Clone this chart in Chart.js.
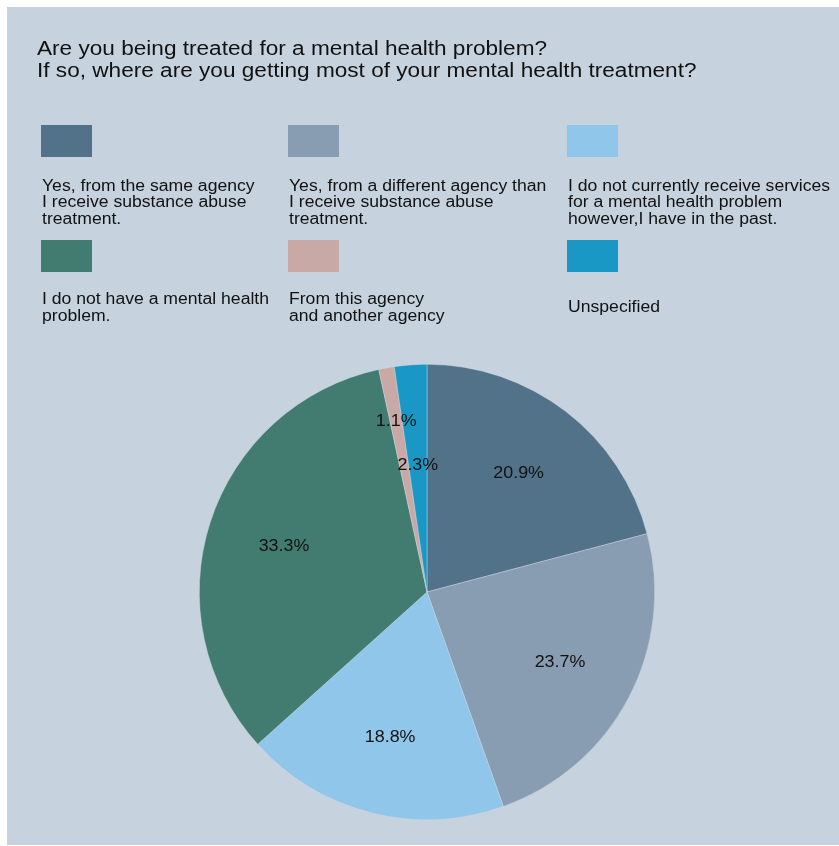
<!DOCTYPE html>
<html>
<head>
<meta charset="utf-8">
<title>Mental health treatment</title>
<script src="https://cdn.jsdelivr.net/npm/chart.js@4.4.1/dist/chart.umd.min.js"></script>
<style>
  html, body { margin: 0; padding: 0; background: #fff; }
  #wrap { width: 839px; height: 846px; }
</style>
</head>
<body>
<div id="wrap"><canvas id="treatmentChart" width="839" height="846"></canvas></div>
<script>
// Survey answers, clockwise from 12 o'clock
const categories = [
  ['Yes, from the same agency', 'I receive substance abuse', 'treatment.'],
  ['Yes, from a different agency than', 'I receive substance abuse', 'treatment.'],
  ['I do not currently receive services', 'for a mental health problem', 'however,I have in the past.'],
  ['I do not have a mental health', 'problem.'],
  ['From this agency', 'and another agency'],
  ['Unspecified']
];
const percentages = [20.9, 23.7, 18.8, 33.3, 1.1, 2.3];
const sliceColors = ['#52728a', '#889cb2', '#8fc6ea', '#427c71', '#c8a9a5', '#1a98c5'];

const titleLines = [
  'Are you being treated for a mental health problem?',
  'If so, where are you getting most of your mental health treatment?'
];

const FONT = '"Liberation Sans", Arial, sans-serif';

// text drawn slightly widened, like the original export's font
function wideText(ctx, text, x, y, sx) {
  ctx.save();
  ctx.translate(x, y);
  ctx.scale(sx, 1);
  ctx.fillText(text, 0, 0);
  ctx.restore();
}

// panel background, title and the three-column legend
const frame = {
  id: 'frame',
  beforeDraw(chart) {
    const ctx = chart.ctx;
    ctx.save();
    ctx.fillStyle = '#ffffff';
    ctx.fillRect(0, 0, chart.width, chart.height);
    ctx.fillStyle = '#c6d2de';
    ctx.fillRect(7, 7, chart.width - 7, chart.height - 8);

    ctx.fillStyle = '#111';
    ctx.font = '20px ' + FONT;
    ctx.textBaseline = 'middle';
    ctx.textAlign = 'left';
    titleLines.forEach((t, i) => wideText(ctx, t, 37, 49 + i * 22, 1.13));

    const colX = [41, 288, 567];
    const boxY = [125, 240];
    const textMid = [203, 308];
    const lineH = 16.5;
    ctx.font = '16px ' + FONT;
    chart.data.labels.forEach((lines, i) => {
      const col = i % 3, row = Math.floor(i / 3);
      ctx.fillStyle = sliceColors[i];
      ctx.fillRect(colX[col], boxY[row], 51, 32);
      ctx.fillStyle = '#111';
      const top = textMid[row] - (lines.length - 1) * lineH / 2;
      lines.forEach((l, k) => wideText(ctx, l, colX[col] + 1, top + k * lineH, 1.1));
    });
    ctx.restore();
  }
};

// percentage text inside the slices; the two thin slices are staggered
const sliceLabels = {
  id: 'sliceLabels',
  afterDatasetsDraw(chart) {
    const ctx = chart.ctx;
    const meta = chart.getDatasetMeta(0);
    const radiusFactor = [0.66, 0.66, 0.66, 0.66, 0.76, 0.56];
    ctx.save();
    ctx.font = '17px ' + FONT;
    ctx.fillStyle = '#111';
    ctx.textAlign = 'center';
    ctx.textBaseline = 'middle';
    meta.data.forEach((arc, i) => {
      const mid = (arc.startAngle + arc.endAngle) / 2;
      const r = arc.outerRadius * radiusFactor[i];
      wideText(ctx, percentages[i].toFixed(1) + '%', arc.x + Math.cos(mid) * r, arc.y + Math.sin(mid) * r, 1.05);
    });
    ctx.restore();
  }
};

new Chart(document.getElementById('treatmentChart'), {
  type: 'pie',
  data: {
    labels: categories,
    datasets: [{
      data: percentages,
      backgroundColor: sliceColors,
      borderColor: 'rgba(210,220,232,0.7)',
      borderWidth: 0.6
    }]
  },
  options: {
    responsive: false,
    animation: false,
    layout: { padding: { top: 364, bottom: 26, left: 190, right: 175 } },
    plugins: {
      legend: { display: false },
      tooltip: { enabled: false }
    }
  },
  plugins: [frame, sliceLabels]
});
</script>
</body>
</html>
